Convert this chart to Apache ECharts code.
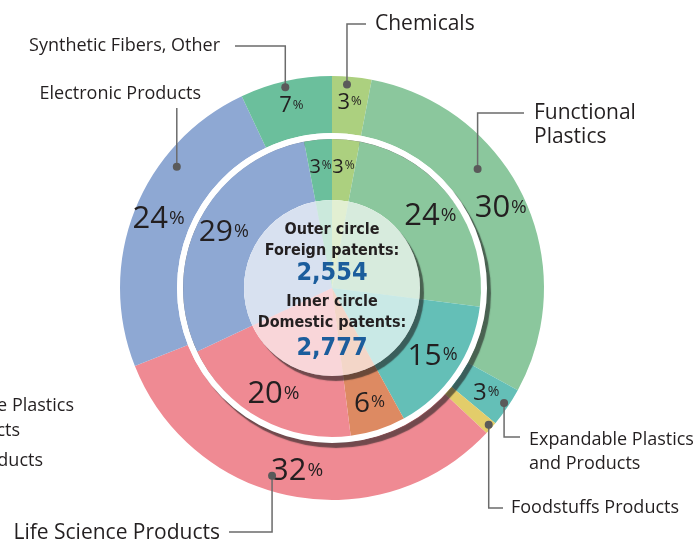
<!DOCTYPE html>
<html>
<head>
<meta charset="utf-8">
<script src="https://cdn.jsdelivr.net/npm/echarts@6/dist/echarts.min.js"></script>
<style>
  html, body { margin: 0; padding: 0; background: #fff; }
  #main { width: 697px; height: 543px; }
</style>
</head>
<body>
<div id="main"></div>
<script>
// categories go clockwise from 12 o'clock
var categories = ['Chemicals', 'Functional Plastics', 'Expandable Plastics and Products', 'Foodstuffs Products', 'Life Science Products', 'Electronic Products', 'Synthetic Fibers, Other']
var outerShare = [3, 30, 3, 1, 32, 24, 7]   // foreign patents, %
var innerShare = [3, 24, 15, 6, 20, 29, 3]  // domestic patents, %
var foreignTotal = '2,554'
var domesticTotal = '2,777'

var outerColors = ['#acd07f', '#8bc79d', '#64bfb7', '#e3cd6a', '#ef8a93', '#8ea8d3', '#6bbf9c']
var innerColors = ['#acd07f', '#8bc79d', '#64bfb7', '#dd8a62', '#ef8a93', '#8ea8d3', '#6bbf9c']
var outerLabelSize = [22, 31, 24, 22, 31, 31, 22]
var innerLabelSize = [20, 31, 30, 28, 31, 30, 20]

var FONT = '"Open Sans", "Noto Sans", sans-serif'
var BOLD_FONT = '"Liberation Sans Narrow", "DejaVu Sans Condensed", sans-serif'
var CX = 332, CY = 288

// leader lines: dot position inside the outer sector (fraction of arc, radius), then the elbow
var leaders = [
  { frac: 0.39, r: 204, turnY: 24, endX: 366, labelX: 375, labelY: 24, align: 'left', size: 21, text: 'Chemicals' },
  { frac: 0.37, r: 188, turnY: 113, endX: 524, labelX: 534, labelY: 101, align: 'left', size: 21, text: 'Functional\nPlastics', top: true },
  { frac: 0.46, r: 207, turnY: 437, endX: 520, labelX: 529, labelY: 428, align: 'left', size: 18, text: 'Expandable Plastics\nand Products', top: true },
  { frac: 0.42, r: 208, turnY: 508, endX: 503, labelX: 511, labelY: 508, align: 'left', size: 18, text: 'Foodstuffs Products' },
  { frac: 0.56, r: 197, turnY: 532, endX: 229, labelX: 220, labelY: 533, align: 'right', size: 21, text: 'Life Science Products' },
  { frac: 0.69, r: 197, turnY: 108, endX: null, labelX: 201, labelY: 94, align: 'right', size: 18, text: 'Electronic Products' },
  { frac: 0.48, r: 206, turnY: 46, endX: 235, labelX: 220, labelY: 46, align: 'right', size: 18, text: 'Synthetic Fibers, Other' }
]

// pieces of the neighbouring chart's labels, cut by the left edge
var ghostLabels = [
  ['Expandable Plastics', 74, 406],
  ['and Products', 20, 431],
  ['Foodstuffs Products', 43, 461]
]

function ringData(values, colors, sizes) {
  return values.map(function (v, i) {
    return {
      name: categories[i],
      value: v,
      itemStyle: { color: colors[i] },
      label: {
        rich: {
          n: { fontSize: sizes[i], fontFamily: FONT, color: '#231f20' },
          p: { fontSize: Math.round(sizes[i] * 0.6), fontFamily: FONT, color: '#231f20', padding: [0, 0, 2, 1] }
        }
      }
    }
  })
}

var chart = echarts.init(document.getElementById('main'))
var base = {
  type: 'pie',
  center: [CX, CY],
  startAngle: 90,
  clockwise: true,
  silent: true,
  labelLine: { show: false },
  emphasis: { disabled: true }
}
var shadow = { color: '#fff', shadowColor: 'rgba(30,30,30,0.6)', shadowOffsetX: 4, shadowOffsetY: 5, shadowBlur: 1 }

chart.setOption({
  animation: false,
  series: [
    Object.assign({}, base, {
      radius: [155, 212],
      data: ringData(outerShare, outerColors, outerLabelSize),
      label: { show: true, position: 'inside', formatter: '{n|{c}}{p|%}' }
    }),
    Object.assign({}, base, {
      radius: [149, 155],
      data: [{ value: 1, itemStyle: shadow }],
      label: { show: false }
    }),
    Object.assign({}, base, {
      radius: [88, 149],
      data: ringData(innerShare, innerColors, innerLabelSize),
      label: { show: true, position: 'inside', formatter: '{n|{c}}{p|%}' }
    }),
    Object.assign({}, base, {
      radius: [0, 88],
      data: [{ value: 1, itemStyle: shadow }],
      label: { show: false }
    }),
    Object.assign({}, base, {
      radius: [0, 88],
      data: innerShare.map(function (v, i) {
        return { name: categories[i], value: v, itemStyle: { color: innerColors[i], opacity: 0.35 } }
      }),
      label: { show: false }
    })
  ]
})

// leader lines hang off the laid-out outer sectors
var outerData = chart.getModel().getSeriesByIndex(0).getData()
var graphics = []
leaders.forEach(function (L, i) {
  var lay = outerData.getItemLayout(i)
  var a = lay.startAngle + L.frac * (lay.endAngle - lay.startAngle)
  var x = lay.cx + L.r * Math.cos(a)
  var y = lay.cy + L.r * Math.sin(a)
  var pts = [[x, y], [x, L.turnY]]
  if (L.endX !== null) pts.push([L.endX, L.turnY])
  graphics.push({ type: 'polyline', z: 100, silent: true, shape: { points: pts }, style: { stroke: '#6b6b6b', lineWidth: 1.5, fill: null } })
  graphics.push({ type: 'circle', z: 101, silent: true, shape: { cx: x, cy: y, r: 4 }, style: { fill: '#5a5a5a' } })
  graphics.push({
    type: 'text', z: 100, silent: true, x: L.labelX, y: L.labelY,
    style: { text: L.text, fill: '#231f20', fontSize: L.size, fontFamily: FONT, lineHeight: 24, align: L.align, verticalAlign: L.top ? 'top' : 'middle' }
  })
})
ghostLabels.forEach(function (g) {
  graphics.push({ type: 'text', z: 100, silent: true, x: g[1], y: g[2], style: { text: g[0], fill: '#231f20', fontSize: 18, fontFamily: FONT, align: 'right', verticalAlign: 'middle' } })
})
graphics.push({
  type: 'text', z: 110, silent: true, x: CX, y: CY + 3,
  style: {
    text: '{t|Outer circle}\n{t|Foreign patents:}\n{v1|' + foreignTotal + '}\n{t|Inner circle}\n{t|Domestic patents:}\n{v|' + domesticTotal + '}',
    align: 'center', verticalAlign: 'middle',
    rich: {
      t: { fontFamily: BOLD_FONT, fontWeight: 'bold', fontSize: 16, lineHeight: 21, fill: '#231f20', align: 'center' },
      v1: { fontFamily: BOLD_FONT, fontWeight: 'bold', fontSize: 25, lineHeight: 30, fill: '#1b5d9c', align: 'center', padding: [0, 0, 6, 0] },
      v: { fontFamily: BOLD_FONT, fontWeight: 'bold', fontSize: 25, lineHeight: 30, fill: '#1b5d9c', align: 'center' }
    }
  }
})
chart.setOption({ graphic: graphics })
</script>
</body>
</html>
